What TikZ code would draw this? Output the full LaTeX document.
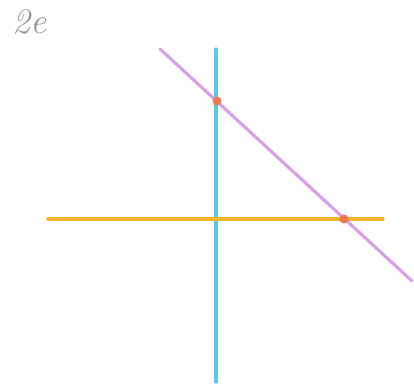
\documentclass[tikz,border=0pt]{standalone}
\usepackage{fontspec}
\definecolor{cyanl}{RGB}{90,200,235}
\definecolor{orangel}{RGB}{240,180,40}
\definecolor{violetl}{RGB}{215,160,232}
\definecolor{dotc}{RGB}{236,120,80}
\definecolor{labelc}{RGB}{150,150,150}
\begin{document}
\begin{tikzpicture}[x=1pt,y=-1pt,
  pencil/.style={line width=3.2pt,line cap=round},
  ptdot/.style={circle,fill=dotc,inner sep=0pt,minimum size=9pt}]
\useasboundingbox (0,0) rectangle (414,385);
\node[labelc,font=\itshape\fontsize{36}{36}\selectfont] (lab) at (30,22) {2e};
\draw[pencil,cyanl] (216,49) -- (216,382);
\draw[pencil,orangel] (48,219) -- (383,219);
\draw[pencil,violetl] (160,49) -- (412,281);
\node[ptdot] (p1) at (217,101) {};
\node[ptdot] (p2) at (344,219) {};
\end{tikzpicture}
\end{document}
